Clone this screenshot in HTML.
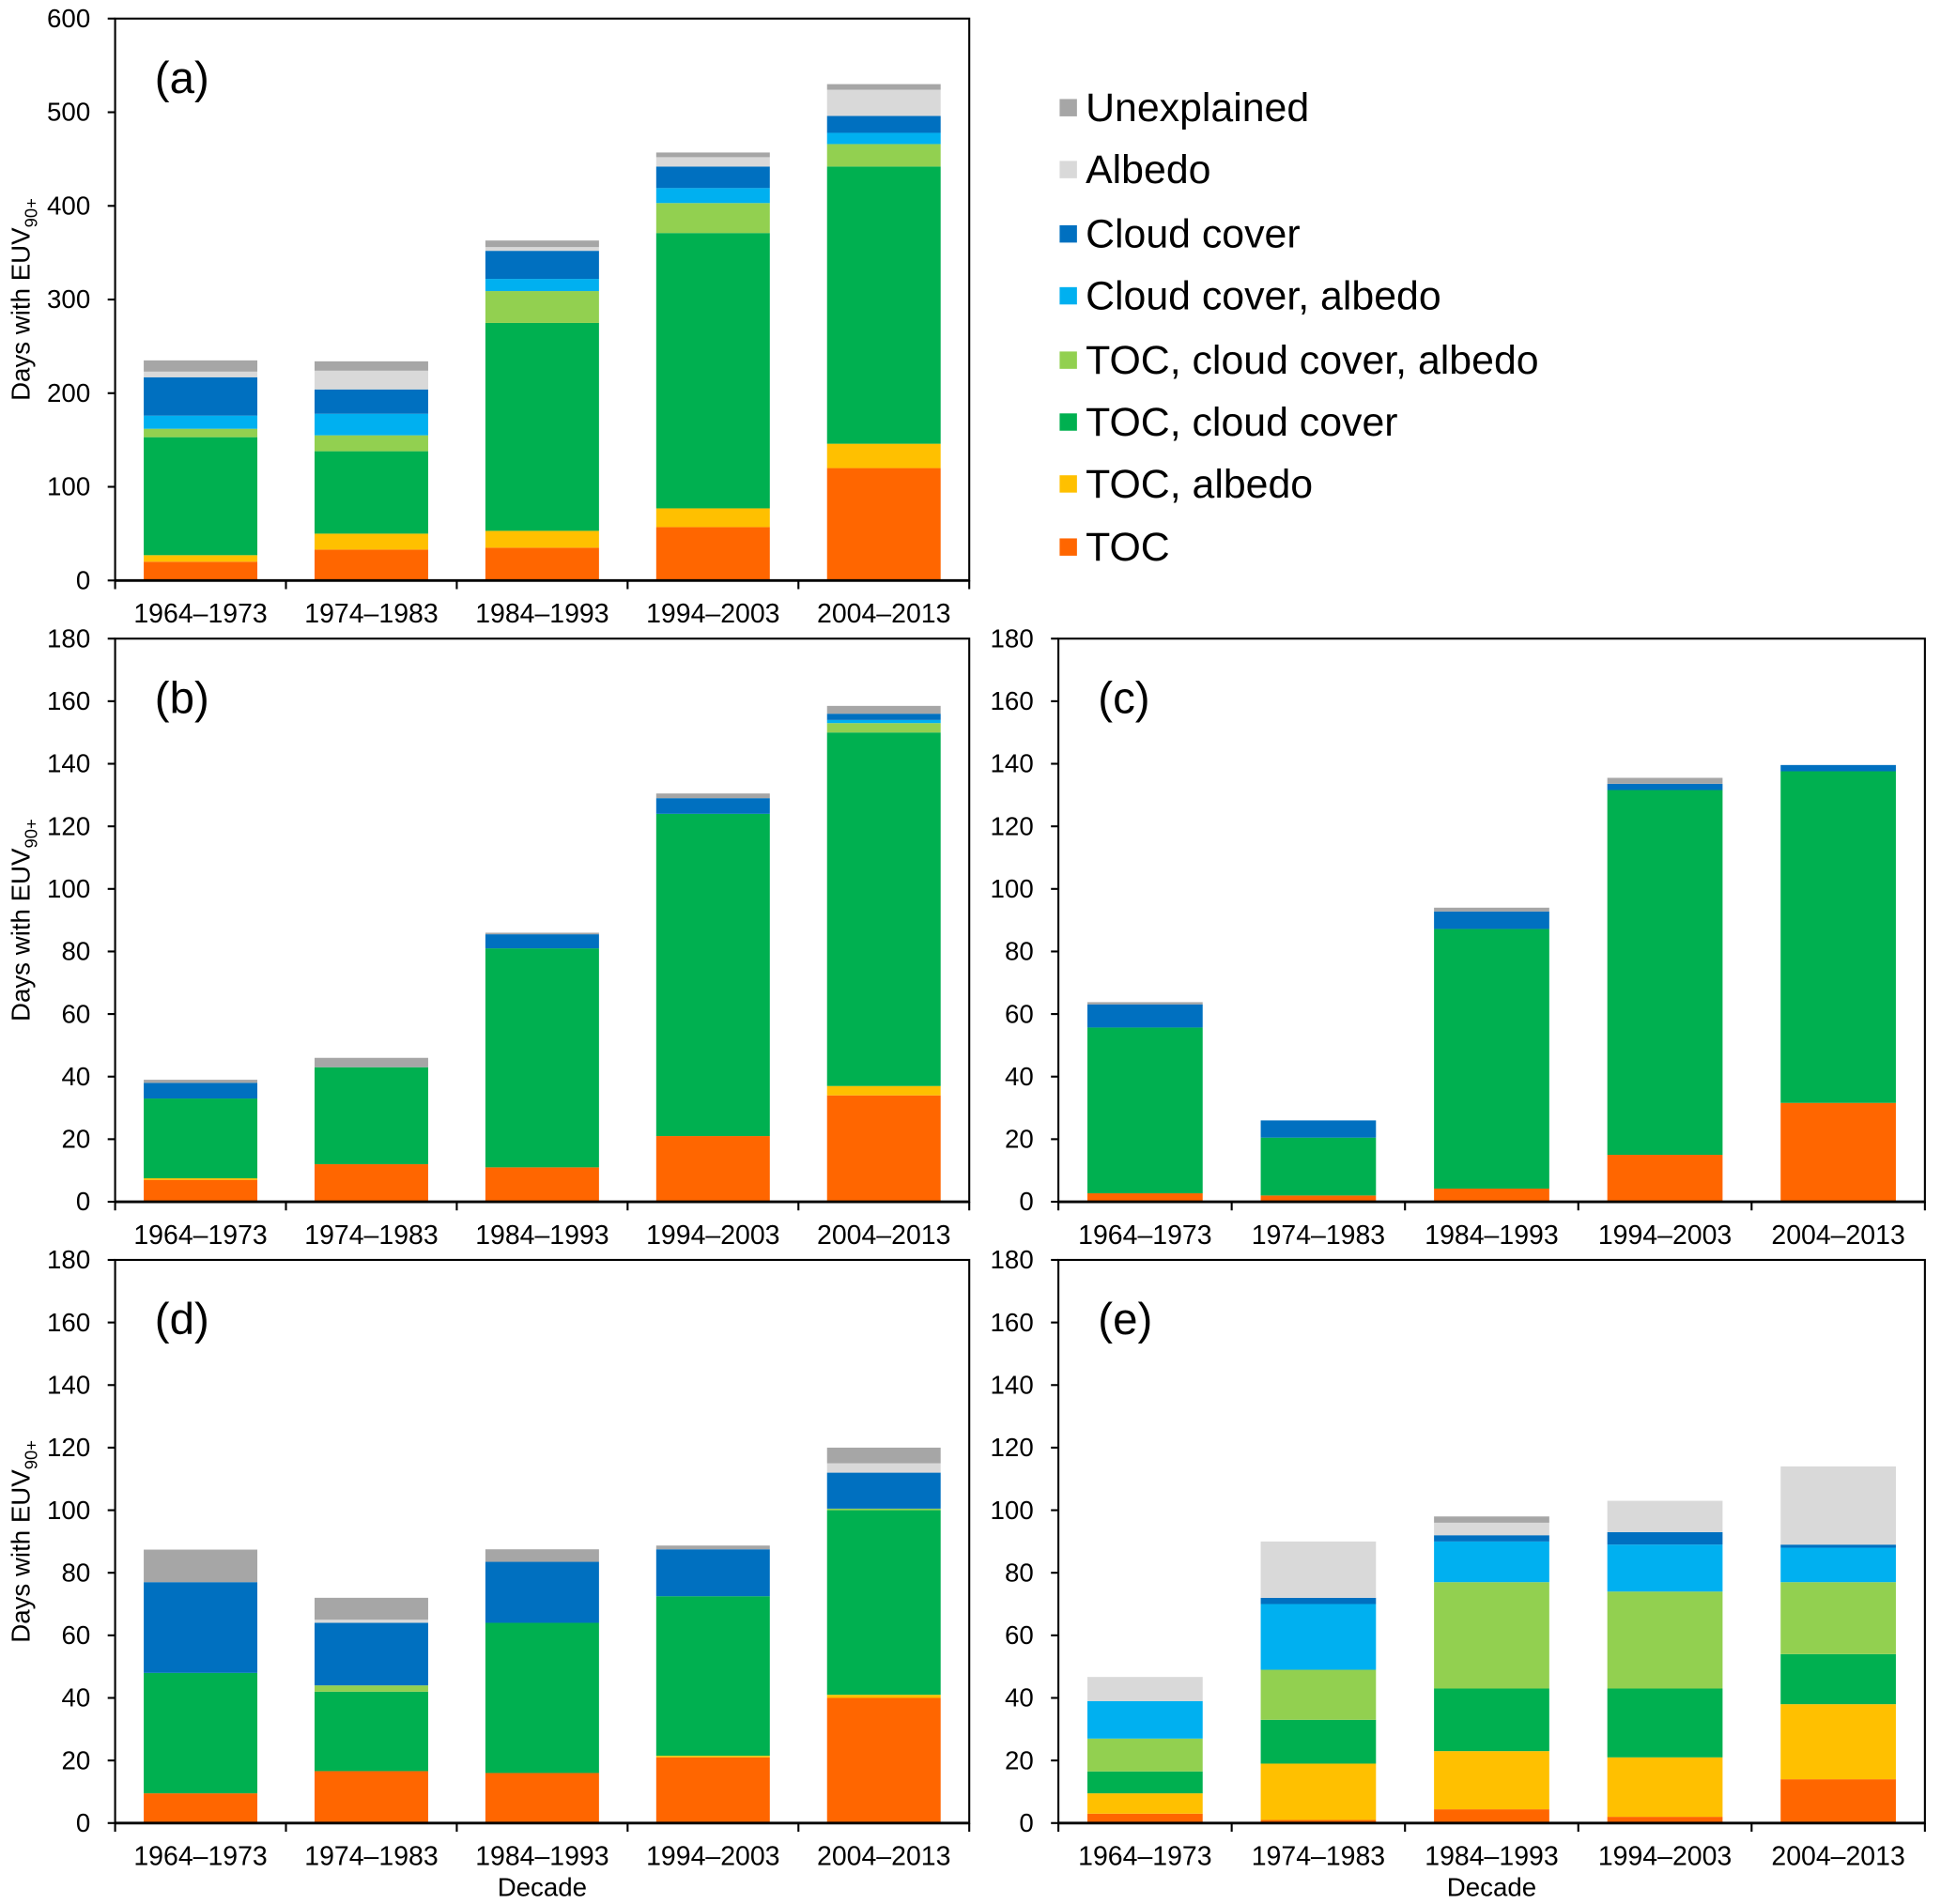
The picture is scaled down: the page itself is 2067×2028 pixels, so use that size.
<!DOCTYPE html>
<html><head><meta charset="utf-8"><style>
html,body{margin:0;padding:0;background:#fff}
svg{display:block}
text{font-family:"Liberation Sans",Arial,sans-serif;fill:#000}
</style></head><body>
<svg id="fig" xmlns="http://www.w3.org/2000/svg" width="2067" height="2028" viewBox="0 0 1568 1538.4"></svg>
<script>
const categories = ["1964–1973","1974–1983","1984–1993","1994–2003","2004–2013"];
const seriesNames = ["TOC","TOC, albedo","TOC, cloud cover","TOC, cloud cover, albedo","Cloud cover, albedo","Cloud cover","Albedo","Unexplained"];
const seriesColors = ["#FF6600","#FFC000","#00B050","#92D050","#00B0F0","#0070C0","#D9D9D9","#A6A6A6"];
const a_toc=[20,33,35,57,120], a_tocAlb=[7,17,18,20,26], a_tocCloud=[126,88,222,294,296], a_tocCloudAlb=[9,17,34,32,24], a_cloudAlb=[14,23,13,16,12], a_cloud=[41,26,30,23,18], a_alb=[6,20,4,10,28], a_unexp=[12,10,7,5,6];
const b_toc=[7,12,11,21,34], b_tocAlb=[0.5,0,0,0,3], b_tocCloud=[25.5,31,70,103,113], b_tocCloudAlb=[0,0,0,0,3], b_cloudAlb=[0,0,0,0,1], b_cloud=[5,0,4.5,5,2], b_alb=[0,0,0,0,0], b_unexp=[1,3,0.5,1.5,2.5];
const c_toc=[2.7,2,4.2,15,31.6], c_tocAlb=[0,0,0,0,0], c_tocCloud=[53,18.5,83,116.6,106], c_tocCloudAlb=[0,0,0,0,0], c_cloudAlb=[0,0,0,0,0], c_cloud=[7.4,5.5,5.6,2,2], c_alb=[0,0,0,0,0], c_unexp=[0.7,0,1.2,1.9,0];
const d_toc=[9.5,16.6,16,21,40], d_tocAlb=[0,0,0,0.5,1], d_tocCloud=[38.5,25.4,48,51,59], d_tocCloudAlb=[0,2,0,0,0.5], d_cloudAlb=[0,0,0,0,0], d_cloud=[29,20,19.5,15,11.5], d_alb=[0,1,0,0,3], d_unexp=[10.4,7,4,1.2,5];
const e_toc=[3,1,4.4,2,14], e_tocAlb=[6.5,18,18.6,19,24], e_tocCloud=[7,14,20,22,16], e_tocCloudAlb=[10.5,16,34,31,23], e_cloudAlb=[12,21,13,15,11], e_cloud=[0,2,2,4,1], e_alb=[7.7,18,4,10,25], e_unexp=[0,0,2,0,0];
const ticksA=[0,100,200,300,400,500,600];
const ticksB=[0,20,40,60,80,100,120,140,160,180];

const NS="http://www.w3.org/2000/svg";
const svg=document.getElementById('fig');
function mk(tag,attrs,parent){const e=document.createElementNS(NS,tag);for(const k in attrs)e.setAttribute(k,attrs[k]);(parent||svg).appendChild(e);return e;}

const panels=[
 {id:'a',x0:93,x1:783,y0:15,y1:469,max:600,ticks:ticksA,data:[a_toc,a_tocAlb,a_tocCloud,a_tocCloudAlb,a_cloudAlb,a_cloud,a_alb,a_unexp],ytitle:true,decade:false},
 {id:'b',x0:93,x1:783,y0:516,y1:971,max:180,ticks:ticksB,data:[b_toc,b_tocAlb,b_tocCloud,b_tocCloudAlb,b_cloudAlb,b_cloud,b_alb,b_unexp],ytitle:true,decade:false},
 {id:'c',x0:855,x1:1555,y0:516,y1:971,max:180,ticks:ticksB,data:[c_toc,c_tocAlb,c_tocCloud,c_tocCloudAlb,c_cloudAlb,c_cloud,c_alb,c_unexp],ytitle:false,decade:false},
 {id:'d',x0:93,x1:783,y0:1018,y1:1473,max:180,ticks:ticksB,data:[d_toc,d_tocAlb,d_tocCloud,d_tocCloudAlb,d_cloudAlb,d_cloud,d_alb,d_unexp],ytitle:true,decade:true},
 {id:'e',x0:855,x1:1555,y0:1018,y1:1473,max:180,ticks:ticksB,data:[e_toc,e_tocAlb,e_tocCloud,e_tocCloudAlb,e_cloudAlb,e_cloud,e_alb,e_unexp],ytitle:false,decade:true}
];

panels.forEach(p=>{
  const g=mk('g',{});
  
  
  const yS=v=>p.y1-(v/p.max)*(p.y1-p.y0);
  const cw=(p.x1-p.x0)/categories.length;
  const bw=cw*0.665;
  categories.forEach((c,i)=>{
    let cum=0;
    const bx=p.x0+cw*i+(cw-bw)/2;
    p.data.forEach((arr,s)=>{
      const v=arr[i];
      if(v>0){
        const r=mk('rect',{x:bx,y:yS(cum+v),width:bw,height:yS(cum)-yS(cum+v),fill:seriesColors[s]},g);
        
        
      }
      cum+=v;
    });
    const t=mk('text',{x:p.x0+cw*(i+0.5),y:p.y1+34,'text-anchor':'middle','font-size':22,textLength:108,lengthAdjust:'spacingAndGlyphs'},g);
    t.textContent=c;
    
    
  });
  const fr=mk('rect',{x:p.x0,y:p.y0,width:p.x1-p.x0,height:p.y1-p.y0,fill:'none',stroke:'#000','stroke-width':1.6},g);
  
  
  mk('line',{x1:p.x0,x2:p.x1,y1:p.y1,y2:p.y1,stroke:'#000','stroke-width':2.2},g);
  for(let i=0;i<=categories.length;i++){
    const x=p.x0+cw*i;
    mk('line',{x1:x,x2:x,y1:p.y1,y2:p.y1+7,stroke:'#000','stroke-width':1.6},g);
  }
  p.ticks.forEach(v=>{
    mk('line',{x1:p.x0-6,x2:p.x0,y1:yS(v),y2:yS(v),stroke:'#000','stroke-width':1.6},g);
    const t=mk('text',{x:p.x0-20,y:yS(v)+7,'text-anchor':'end','font-size':21},g);
    t.textContent=v;
    
    
  });
  const pl=mk('text',{x:p.x0+32,y:p.y0+60,'font-size':36},g);
  pl.textContent='('+p.id+')';
  
  
  if(p.ytitle){
    const cy=(p.y0+p.y1)/2;
    const t=mk('text',{x:0,y:0,'text-anchor':'middle','font-size':21,transform:'translate(24,'+cy+') rotate(-90)'},g);
    t.innerHTML='Days with EUV<tspan font-size="14" dy="6">90+</tspan>';
    
    
  }
  if(p.decade){
    const t=mk('text',{x:(p.x0+p.x1)/2,y:p.y1+59,'text-anchor':'middle','font-size':21},g);
    t.textContent='Decade';
    
    
  }
});

const lg=mk('g',{});


const legendYs=[87,137,189,239,291,341,391,442];
for(let k=0;k<8;k++){
  const s=7-k;
  const y=legendYs[k];
  const r=mk('rect',{x:856,y:y-7,width:14,height:14,fill:seriesColors[s]},lg);
  
  
  const t=mk('text',{x:877,y:y+11,'font-size':32.5},lg);
  t.textContent=seriesNames[s];
  
  
}
</script>
</body></html>
